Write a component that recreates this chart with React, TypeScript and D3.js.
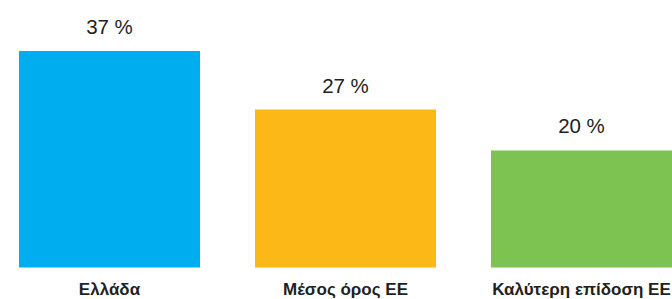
import { useEffect, useRef } from "react";
import * as d3 from "d3";

const categories = ["Ελλάδα", "Μέσος όρος ΕΕ", "Καλύτερη επίδοση ΕΕ"];
const values = [37, 27, 20];
const barColors = ["#00AEEF", "#FBB817", "#7DC352"];

const WIDTH = 672;
const HEIGHT = 299;

export default function App() {
  const svgRef = useRef<SVGSVGElement>(null);

  useEffect(() => {
    if (!svgRef.current) return;
    const svg = d3.select(svgRef.current);
    svg.selectAll("*").remove();

    const x = d3
      .scaleBand<string>()
      .domain(categories)
      .range([19, WIDTH])
      .paddingInner(0.233)
      .paddingOuter(0);

    const y = d3.scaleLinear().domain([0, 37]).range([267.5, 51]);

    const data = categories.map((c, i) => ({ c, v: values[i], color: barColors[i] }));

    // Bars
    svg
      .selectAll("rect")
      .data(data)
      .join("rect")
      .attr("x", (d) => x(d.c)!)
      .attr("y", (d) => y(d.v))
      .attr("width", x.bandwidth())
      .attr("height", (d) => y(0) - y(d.v))
      .attr("fill", (d) => d.color);

    // Value labels
    svg
      .selectAll("text.value")
      .data(data)
      .join("text")
      .attr("class", "value")
      .attr("x", (d) => x(d.c)! + x.bandwidth() / 2)
      .attr("y", (d) => y(d.v) - 17)
      .attr("text-anchor", "middle")
      .attr("fill", "#231f20")
      .attr("font-size", "20.5px")
      .attr("font-family", "'Liberation Sans', Arial, sans-serif")
      .text((d) => `${d.v} %`);

    // Category labels
    svg
      .selectAll("text.cat")
      .data(data)
      .join("text")
      .attr("class", "cat")
      .attr("x", (d) => x(d.c)! + x.bandwidth() / 2)
      .attr("y", 295)
      .attr("text-anchor", "middle")
      .attr("fill", "#231f20")
      .attr("font-size", "17px")
      .attr("font-weight", "bold")
      .attr("font-family", "'Liberation Sans', Arial, sans-serif")
      .text((d) => d.c);
  }, []);

  return (
    <svg
      ref={svgRef}
      width={WIDTH}
      height={HEIGHT}
      style={{ position: "absolute", left: 0, top: 0, background: "#fff" }}
    />
  );
}
